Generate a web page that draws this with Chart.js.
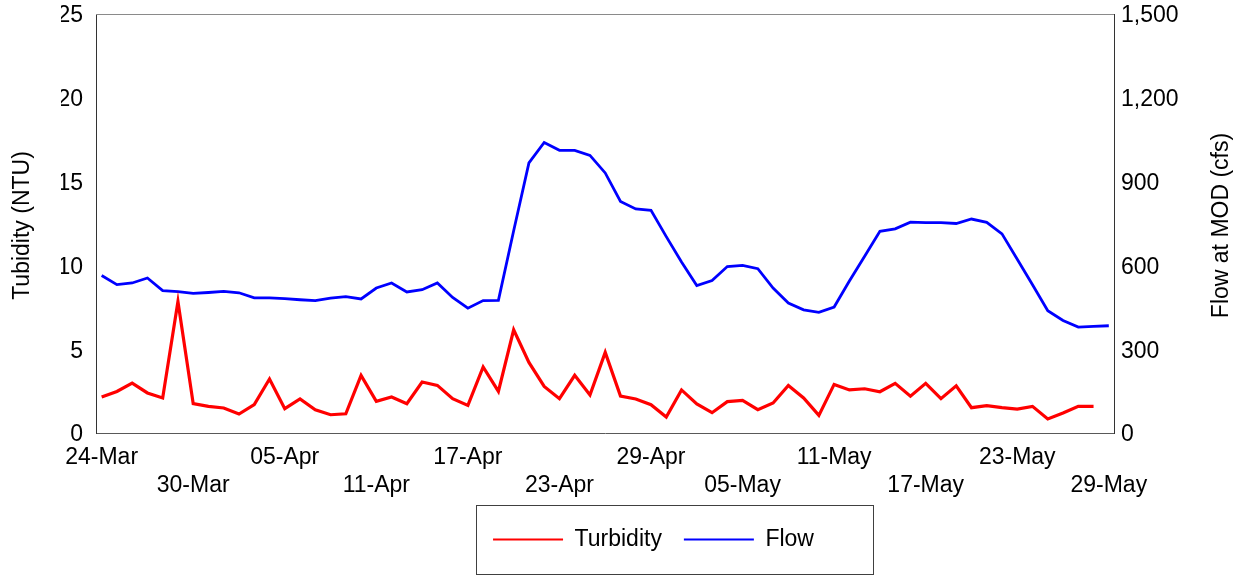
<!DOCTYPE html>
<html>
<head>
<meta charset="utf-8">
<script src="https://cdn.jsdelivr.net/npm/chart.js@4.4.0/dist/chart.umd.min.js"></script>
<style>
html,body{margin:0;padding:0;background:#ffffff;}
#wrap{width:1246px;height:577px;position:relative;}
</style>
</head>
<body>
<div id="wrap"><canvas id="c" width="1246" height="577"></canvas></div>
<script>
// ---- data (day index 0 = 24-Mar) ----
const tickDays = [0, 6, 12, 18, 24, 30, 36, 42, 48, 54, 60, 66];
const tickLabels = ['24-Mar', '30-Mar', '05-Apr', '11-Apr', '17-Apr', '23-Apr', '29-Apr', '05-May', '11-May', '17-May', '23-May', '29-May'];
const turbidity = [2.15, 2.48, 2.98, 2.39, 2.09, 7.85, 1.75, 1.59, 1.49, 1.13,
  1.69, 3.22, 1.45, 2.03, 1.39, 1.09, 1.15, 3.44, 1.89, 2.15,
  1.75, 3.04, 2.84, 2.05, 1.65, 3.94, 2.48, 6.16, 4.21, 2.78,
  2.05, 3.44, 2.27, 4.81, 2.20, 2.03, 1.69, 0.95, 2.57, 1.73,
  1.21, 1.87, 1.95, 1.39, 1.79, 2.84, 2.09, 1.05, 2.90, 2.57,
  2.64, 2.46, 2.96, 2.20, 2.96, 2.05, 2.82, 1.51, 1.63, 1.51,
  1.43, 1.59, 0.84, 1.19, 1.59, 1.59];
const flow = [564, 531, 537, 555, 510, 506, 500, 503, 507, 502,
  484, 484, 481, 477, 474, 483, 488, 480, 519, 537,
  505, 513, 537, 485, 447, 474, 475, 724, 967, 1040,
  1012, 1012, 994, 931, 829, 802, 797, 703, 612, 528,
  546, 596, 600, 588, 519, 465, 441, 432, 451, 544,
  633, 722, 731, 755, 753, 753, 750, 766, 754, 713,
  622, 531, 438, 403, 379, 382, 384];
const seriesNames = ['Turbidity', 'Flow'];
const leftTitle = 'Tubidity (NTU)';
const rightTitle = 'Flow at MOD (cfs)';

const FONT = '"Liberation Sans", Arial, sans-serif';
const FS = 23;

const toXY = arr => arr.map((v, i) => ({x: i, y: v}));

const zeroPad = axis => { axis.paddingTop = 0; axis.paddingBottom = 0; axis.paddingLeft = 0; axis.paddingRight = 0; };

const framePlugin = {
  id: 'frame',
  afterDraw(chart) {
    const {ctx, chartArea: a} = chart;
    ctx.save();
    // top border of plot frame
    ctx.strokeStyle = '#8a8a8a';
    ctx.lineWidth = 1;
    ctx.beginPath();
    ctx.moveTo(a.left, Math.round(a.top) + 0.5);
    ctx.lineTo(a.right, Math.round(a.top) + 0.5);
    ctx.stroke();
    // axis titles (both read bottom-to-top)
    ctx.fillStyle = '#000';
    ctx.font = FS + 'px ' + FONT;
    ctx.textAlign = 'center';
    ctx.textBaseline = 'middle';
    const cy = (a.top + a.bottom) / 2 + 2;
    ctx.save();
    ctx.translate(a.left - 73, cy);
    ctx.rotate(-Math.PI / 2);
    ctx.fillText(leftTitle, 0, 0);
    ctx.restore();
    ctx.save();
    ctx.translate(a.right + 108, cy);
    ctx.rotate(-Math.PI / 2);
    ctx.fillText(rightTitle, 0, 0);
    ctx.restore();
    // legend frame
    const lg = chart.legend;
    if (lg && lg.legendHitBoxes && lg.legendHitBoxes.length) {
      const hb = lg.legendHitBoxes;
      let l = Infinity, r = -Infinity, cyl = 0;
      hb.forEach(h => { l = Math.min(l, h.left); r = Math.max(r, h.left + h.width); cyl = h.top + h.height / 2; });
      ctx.strokeStyle = '#404040';
      ctx.lineWidth = 1;
      ctx.strokeRect(Math.round(l - 17) + 0.5, Math.round(cyl - 35) + 0.5, Math.round(r + 59 - (l - 17)), 69);
    }
    ctx.restore();
  }
};

new Chart(document.getElementById('c'), {
  type: 'line',
  data: {
    datasets: [
      {label: seriesNames[0], data: toXY(turbidity), yAxisID: 'y', borderColor: '#ff0000', backgroundColor: '#ff0000', borderWidth: 3.2, pointRadius: 0, tension: 0, fill: false},
      {label: seriesNames[1], data: toXY(flow), yAxisID: 'y1', borderColor: '#0000ff', backgroundColor: '#0000ff', borderWidth: 2.8, pointRadius: 0, tension: 0, fill: false}
    ]
  },
  options: {
    responsive: false,
    animation: false,
    devicePixelRatio: 1,
    layout: {padding: {left: 61, right: 0, top: 14, bottom: 16}},
    plugins: {
      tooltip: {enabled: false},
      legend: {
        position: 'bottom',
        labels: {
          color: '#000',
          font: {family: FONT, size: FS},
          boxWidth: 70,
          boxHeight: 2,
          padding: 22,
          generateLabels(chart) {
            return chart.data.datasets.map((d, i) => ({
              text: d.label, fillStyle: d.borderColor, strokeStyle: d.borderColor,
              lineWidth: 0, hidden: false, datasetIndex: i, fontColor: '#000'
            }));
          }
        }
      }
    },
    scales: {
      x: {
        type: 'linear',
        min: -0.37,
        max: 66.34,
        grid: {display: false, drawTicks: false},
        border: {display: true, color: '#595959', width: 1},
        afterBuildTicks(axis) { axis.ticks = tickDays.map(v => ({value: v})); },
        afterFit(axis) { axis.height = 73; zeroPad(axis); },
        ticks: {
          autoSkip: false, maxRotation: 0, minRotation: 0, padding: 11,
          color: '#000', font: {family: FONT, size: FS},
          callback(v) {
            const k = tickDays.indexOf(v);
            if (k < 0) return '';
            return k % 2 === 0 ? [tickLabels[k], ''] : ['', tickLabels[k]];
          }
        }
      },
      y: {
        position: 'left',
        min: 0, max: 25,
        grid: {display: false, drawTicks: false},
        border: {display: true, color: '#333333', width: 1},
        afterFit(axis) { axis.width = 35; zeroPad(axis); },
        ticks: {stepSize: 5, padding: 13, labelOffset: 2, color: '#000', font: {family: FONT, size: FS}}
      },
      y1: {
        position: 'right',
        min: 0, max: 1500,
        grid: {display: false, drawTicks: false},
        border: {display: true, color: '#333333', width: 1},
        afterFit(axis) { axis.width = 132; zeroPad(axis); },
        ticks: {stepSize: 300, padding: 7, labelOffset: 2, color: '#000', font: {family: FONT, size: FS},
          callback: v => Number(v).toLocaleString('en-US')}
      }
    }
  },
  plugins: [framePlugin]
});
</script>
</body>
</html>
